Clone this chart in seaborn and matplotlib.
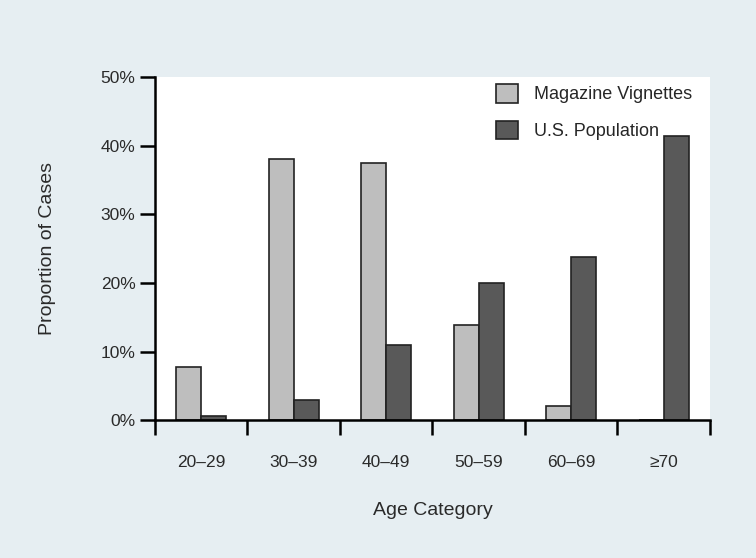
import pandas as pd
import seaborn as sns
import matplotlib.pyplot as plt

# Data (percent of cases)
ages = ["20–29", "30–39", "40–49", "50–59", "60–69", "≥70"]
magazine = [7.8, 38.0, 37.5, 13.9, 2.1, 0.0]
us_pop = [0.6, 3.0, 10.9, 20.0, 23.8, 41.4]
groups = ["Magazine Vignettes", "U.S. Population"]

df = pd.DataFrame({
    "Age": ages * 2,
    "Share": magazine + us_pop,
    "Group": [groups[0]] * len(ages) + [groups[1]] * len(ages),
})

sns.set_style("white")
plt.rcParams["font.family"] = ["Liberation Sans", "DejaVu Sans"]

fig = plt.figure(figsize=(7.56, 5.58), dpi=100, facecolor="#e6eef2")
ax = fig.add_axes([0.205, 0.247, 0.734, 0.615])
ax.set_facecolor("white")

sns.barplot(data=df, x="Age", y="Share", hue="Group", order=ages, hue_order=groups,
            palette=["#bebebe", "#595959"], width=0.54, edgecolor="#222222",
            linewidth=1.2, saturation=1, ax=ax)

ax.set_xlim(-0.5, 5.5)
ax.set_ylim(0, 50)
ax.set_yticks([0, 10, 20, 30, 40, 50])
ax.set_yticklabels([f"{v}%" for v in [0, 10, 20, 30, 40, 50]])

# category boundaries get the tick marks, labels sit in between
ax.set_xticks([i - 0.5 for i in range(len(ages) + 1)], minor=True)
ax.tick_params(axis="x", which="major", length=0, pad=25, labelsize=12.5, labelcolor="#2a2a2a")
ax.tick_params(axis="x", which="minor", length=11, width=1.8, color="black", direction="out", bottom=True)
ax.tick_params(axis="y", length=11, width=1.8, color="black", direction="out", left=True,
               pad=3, labelsize=12.5, labelcolor="#2a2a2a")

for s in ["top", "right"]:
    ax.spines[s].set_visible(False)
for s in ["left", "bottom"]:
    ax.spines[s].set_linewidth(1.8)
    ax.spines[s].set_color("black")

ax.set_xlabel("Age Category", fontsize=14, color="#2a2a2a", labelpad=23)
ax.set_ylabel("Proportion of Cases", fontsize=14, color="#2a2a2a", labelpad=32)

ax.legend(loc="upper right", bbox_to_anchor=(0.975, 0.99), frameon=False, fontsize=13,
          handlelength=1.2, handleheight=1.2, labelspacing=0.95, handletextpad=0.9,
          borderaxespad=0, borderpad=0.2)

fig.savefig("out.png", dpi=100, facecolor=fig.get_facecolor())
